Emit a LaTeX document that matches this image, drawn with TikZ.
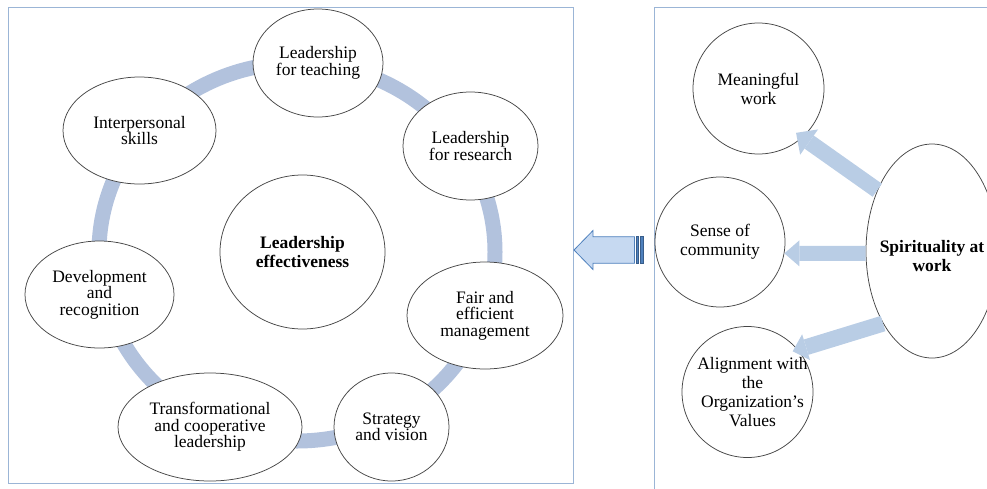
\documentclass[tikz,border=0pt]{standalone}
\usepackage{fontspec}
\setmainfont{Liberation Serif}
\usetikzlibrary{shapes.geometric,arrows.meta}
\definecolor{ringcol}{RGB}{178,194,221}
\definecolor{boxcol}{RGB}{155,181,214}
\definecolor{elcol}{RGB}{70,70,70}
\definecolor{arrcol}{RGB}{185,205,229}
\definecolor{barfill}{RGB}{198,217,241}
\definecolor{bardraw}{RGB}{79,129,189}
\definecolor{stripecol}{RGB}{56,93,138}
\begin{document}
\begin{tikzpicture}[x=1pt,y=-1pt,
  el/.style={ellipse, draw=elcol, line width=0.75pt, fill=white, inner xsep=-15pt, inner ysep=0pt,
    align=center, font=\fontsize{17.5}{16.5}\selectfont},
  elr/.style={el, font=\fontsize{17.5}{19}\selectfont},
  elb/.style={el, font=\fontsize{17.5}{19}\selectfont\bfseries},
  lbr/.style={align=center, inner sep=0pt, font=\fontsize{17.5}{19}\selectfont},
  lbb/.style={lbr, font=\fontsize{17.5}{19}\selectfont\bfseries},
  frame/.style={draw=boxcol, line width=0.9pt},
  ring/.style={draw=ringcol, line width=15pt},
  sarrow/.style={draw=arrcol, fill=arrcol}
]
\clip (0,0) rectangle (987,488);
% frames
\draw[frame] (8,7) rectangle (573,483);
\draw[frame] (654,7) rectangle (1000,500);
% ring
\draw[ring] (297,252) ellipse [x radius=198, y radius=189];
% left nodes
\node[el, minimum width=130pt, minimum height=108pt] (lt) at (318,63) {Leadership\\for teaching};
\node[el, minimum width=135pt, minimum height=108pt] (lr) at (470.5,146) {Leadership\\for research};
\node[el, minimum width=153pt, minimum height=107pt] (ip) at (139.5,130.5) {Interpersonal\\skills};
\node[elb, minimum width=165pt, minimum height=154pt] (le) at (302.5,252) {Leadership\\effectiveness};
\node[el, minimum width=149pt, minimum height=107pt] (dr) at (99.5,294.5) {Development\\and\\recognition};
\node[el, minimum width=156pt, minimum height=107pt] (fm) at (485,315.5) {Fair and\\efficient\\management};
\node[el, minimum width=184pt, minimum height=108pt] (tl) at (210,427) {Transformational\\and cooperative\\leadership};
\node[el, minimum width=115pt, minimum height=108pt] (sv) at (391.5,427) {Strategy\\and vision};
% right nodes
\node[elr, minimum width=131pt, minimum height=131pt] (mw) at (758.5,88.5) {Meaningful\\work};
\node[elr, minimum width=130pt, minimum height=130pt] (sc) at (720,242) {Sense of\\community};
\node[elr, minimum width=131pt, minimum height=131pt,
  label={[lbr, xshift=5pt]center:Alignment with\\the\\Organization’s\\Values}] (al) at (747.5,392) {};
\node[elb, minimum width=132pt, minimum height=214pt,
  label={[lbb, yshift=-5pt]center:Spirituality at\\work}] (sp) at (932,251) {};
% arrows from spirituality
\draw[sarrow, line width=16pt, shorten >=-8pt, -{Triangle[length=16pt,width=31pt,line width=0pt]}] (sp.132) -- (mw.-48);
\draw[sarrow, line width=15pt, -{Triangle[length=15pt,width=26pt,line width=0pt]}] (sp.182) -- (sc.-10);
\draw[sarrow, line width=16pt, shorten >=-5.5pt, -{Triangle[length=14pt,width=27pt,line width=0pt]}] (sp.236) -- (al.40);
% big striped arrow
\filldraw[fill=barfill, draw=bardraw, line width=0.8pt]
  (574,250) -- (593,230.5) -- (593,236.7) -- (634.5,236.7) -- (634.5,263.3) -- (593,263.3) -- (593,269.5) -- cycle;
\filldraw[fill=bardraw, draw=stripecol, line width=0.6pt] (636,236.7) rectangle (638.5,263.3);
\filldraw[fill=bardraw, draw=stripecol, line width=0.6pt] (640,236.7) rectangle (643,263.3);
\end{tikzpicture}
\end{document}
